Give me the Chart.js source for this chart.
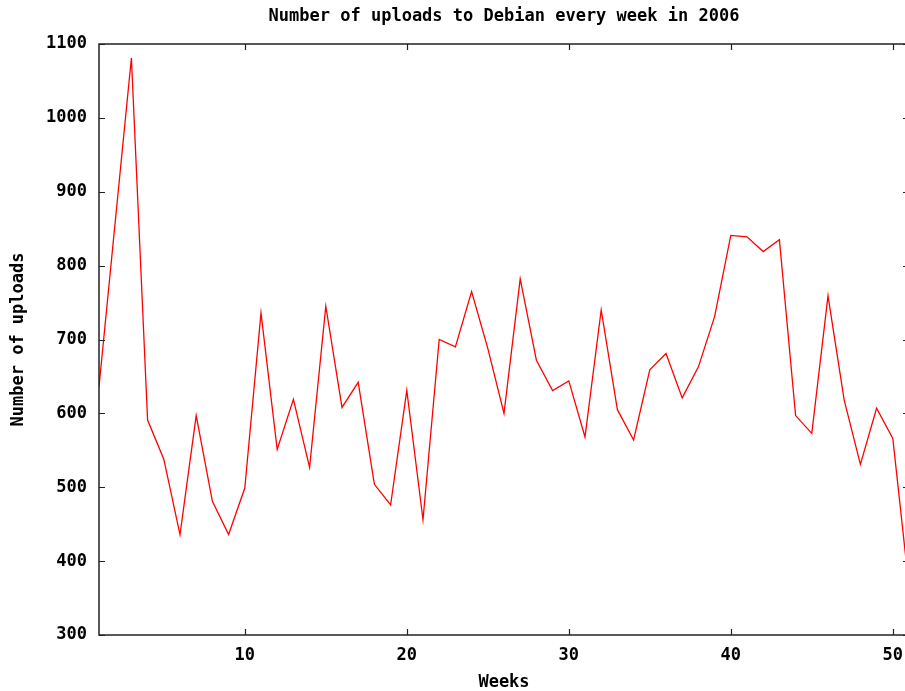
<!DOCTYPE html>
<html>
<head>
<meta charset="utf-8">
<script src="https://cdn.jsdelivr.net/npm/chart.js@4/dist/chart.umd.min.js"></script>
<style>
  html, body { margin: 0; padding: 0; background: #ffffff; overflow: hidden; }
  #wrap { width: 915px; height: 691px; }
</style>
</head>
<body>
<div id="wrap"><canvas id="c" width="915" height="691"></canvas></div>
<script>
const chartTitle = "Number of uploads to Debian every week in 2006";
const xTitle = "Weeks";
const yTitle = "Number of uploads";
const weeks = [1,2,3,4,5,6,7,8,9,10,11,12,13,14,15,16,17,18,19,20,21,22,23,24,25,26,27,28,29,30,31,32,33,34,35,36,37,38,39,40,41,42,43,44,45,46,47,48,49,50,51];
const uploads = [636,859,1081,591,538,436,597,481,436,499,736,551,619,527,745,608,642,504,476,631,456,700,690,765,688,600,782,672,631,644,568,740,605,564,659,681,621,663,731,841,839,819,835,597,573,759,618,531,607,566,365];
const xTicks = [10,20,30,40,50];
const yTicks = [300,400,500,600,700,800,900,1000,1100];

const FONT = "'DejaVu Sans Mono', monospace";

const framePlugin = {
  id: 'frame',
  afterDraw(chart) {
    const ctx = chart.ctx;
    const a = chart.chartArea;
    const xs = chart.scales.x, ys = chart.scales.y;
    ctx.save();
    ctx.strokeStyle = '#222222';
    ctx.lineWidth = 1.5;
    ctx.strokeRect(a.left, a.top, a.right - a.left, a.bottom - a.top);
    ctx.lineWidth = 1.2;
    ctx.beginPath();
    xTicks.forEach(v => {
      const p = Math.round(xs.getPixelForValue(v)) + 0.5;
      ctx.moveTo(p, a.bottom); ctx.lineTo(p, a.bottom - 6);
      ctx.moveTo(p, a.top); ctx.lineTo(p, a.top + 6);
    });
    yTicks.forEach(v => {
      const p = Math.round(ys.getPixelForValue(v)) + 0.5;
      ctx.moveTo(a.left, p); ctx.lineTo(a.left + 6, p);
      ctx.moveTo(a.right, p); ctx.lineTo(a.right - 6, p);
    });
    ctx.stroke();
    ctx.restore();
  }
};

new Chart(document.getElementById('c'), {
  type: 'line',
  data: {
    datasets: [{
      data: weeks.map((w, i) => ({ x: w, y: uploads[i] })),
      borderColor: '#ff0000',
      borderWidth: 1.3,
      pointRadius: 0,
      tension: 0,
      fill: false
    }]
  },
  options: {
    responsive: false,
    animation: false,
    devicePixelRatio: 1,
    layout: { padding: { left: 0, right: 6, top: 0, bottom: 0 } },
    plugins: {
      legend: { display: false },
      tooltip: { enabled: false },
      title: {
        display: true,
        text: chartTitle,
        fullSize: false,
        color: '#000000',
        font: { family: FONT, size: 17, weight: 'bold', lineHeight: 1.2 },
        padding: { top: 6, bottom: 17.6 }
      }
    },
    scales: {
      x: {
        type: 'linear',
        min: 1,
        max: 51,
        grid: { display: false, drawTicks: false },
        border: { display: false },
        afterBuildTicks: (axis) => { axis.ticks = xTicks.map(v => ({ value: v })); },
        afterFit: (axis) => { axis.height = 56; },
        ticks: {
          color: '#000000',
          padding: 10,
          maxRotation: 0,
          autoSkip: false,
          callback: (v) => String(v),
          font: { family: FONT, size: 17, weight: 'bold', lineHeight: 1.2 }
        },
        title: {
          display: true,
          text: xTitle,
          color: '#000000',
          padding: { top: 0, bottom: 0 },
          font: { family: FONT, size: 17, weight: 'bold', lineHeight: 1.0 }
        }
      },
      y: {
        type: 'linear',
        min: 300,
        max: 1100,
        grid: { display: false, drawTicks: false },
        border: { display: false },
        afterBuildTicks: (axis) => { axis.ticks = yTicks.map(v => ({ value: v })); },
        afterFit: (axis) => { axis.width = 99; },
        ticks: {
          color: '#000000',
          padding: 12,
          autoSkip: false,
          callback: (v) => String(v),
          font: { family: FONT, size: 17, weight: 'bold', lineHeight: 1.2 }
        },
        title: {
          display: true,
          text: yTitle,
          color: '#000000',
          padding: { top: 8, bottom: 0 },
          font: { family: FONT, size: 17, weight: 'bold', lineHeight: 1.2 }
        }
      }
    }
  },
  plugins: [framePlugin]
});
</script>
</body>
</html>
